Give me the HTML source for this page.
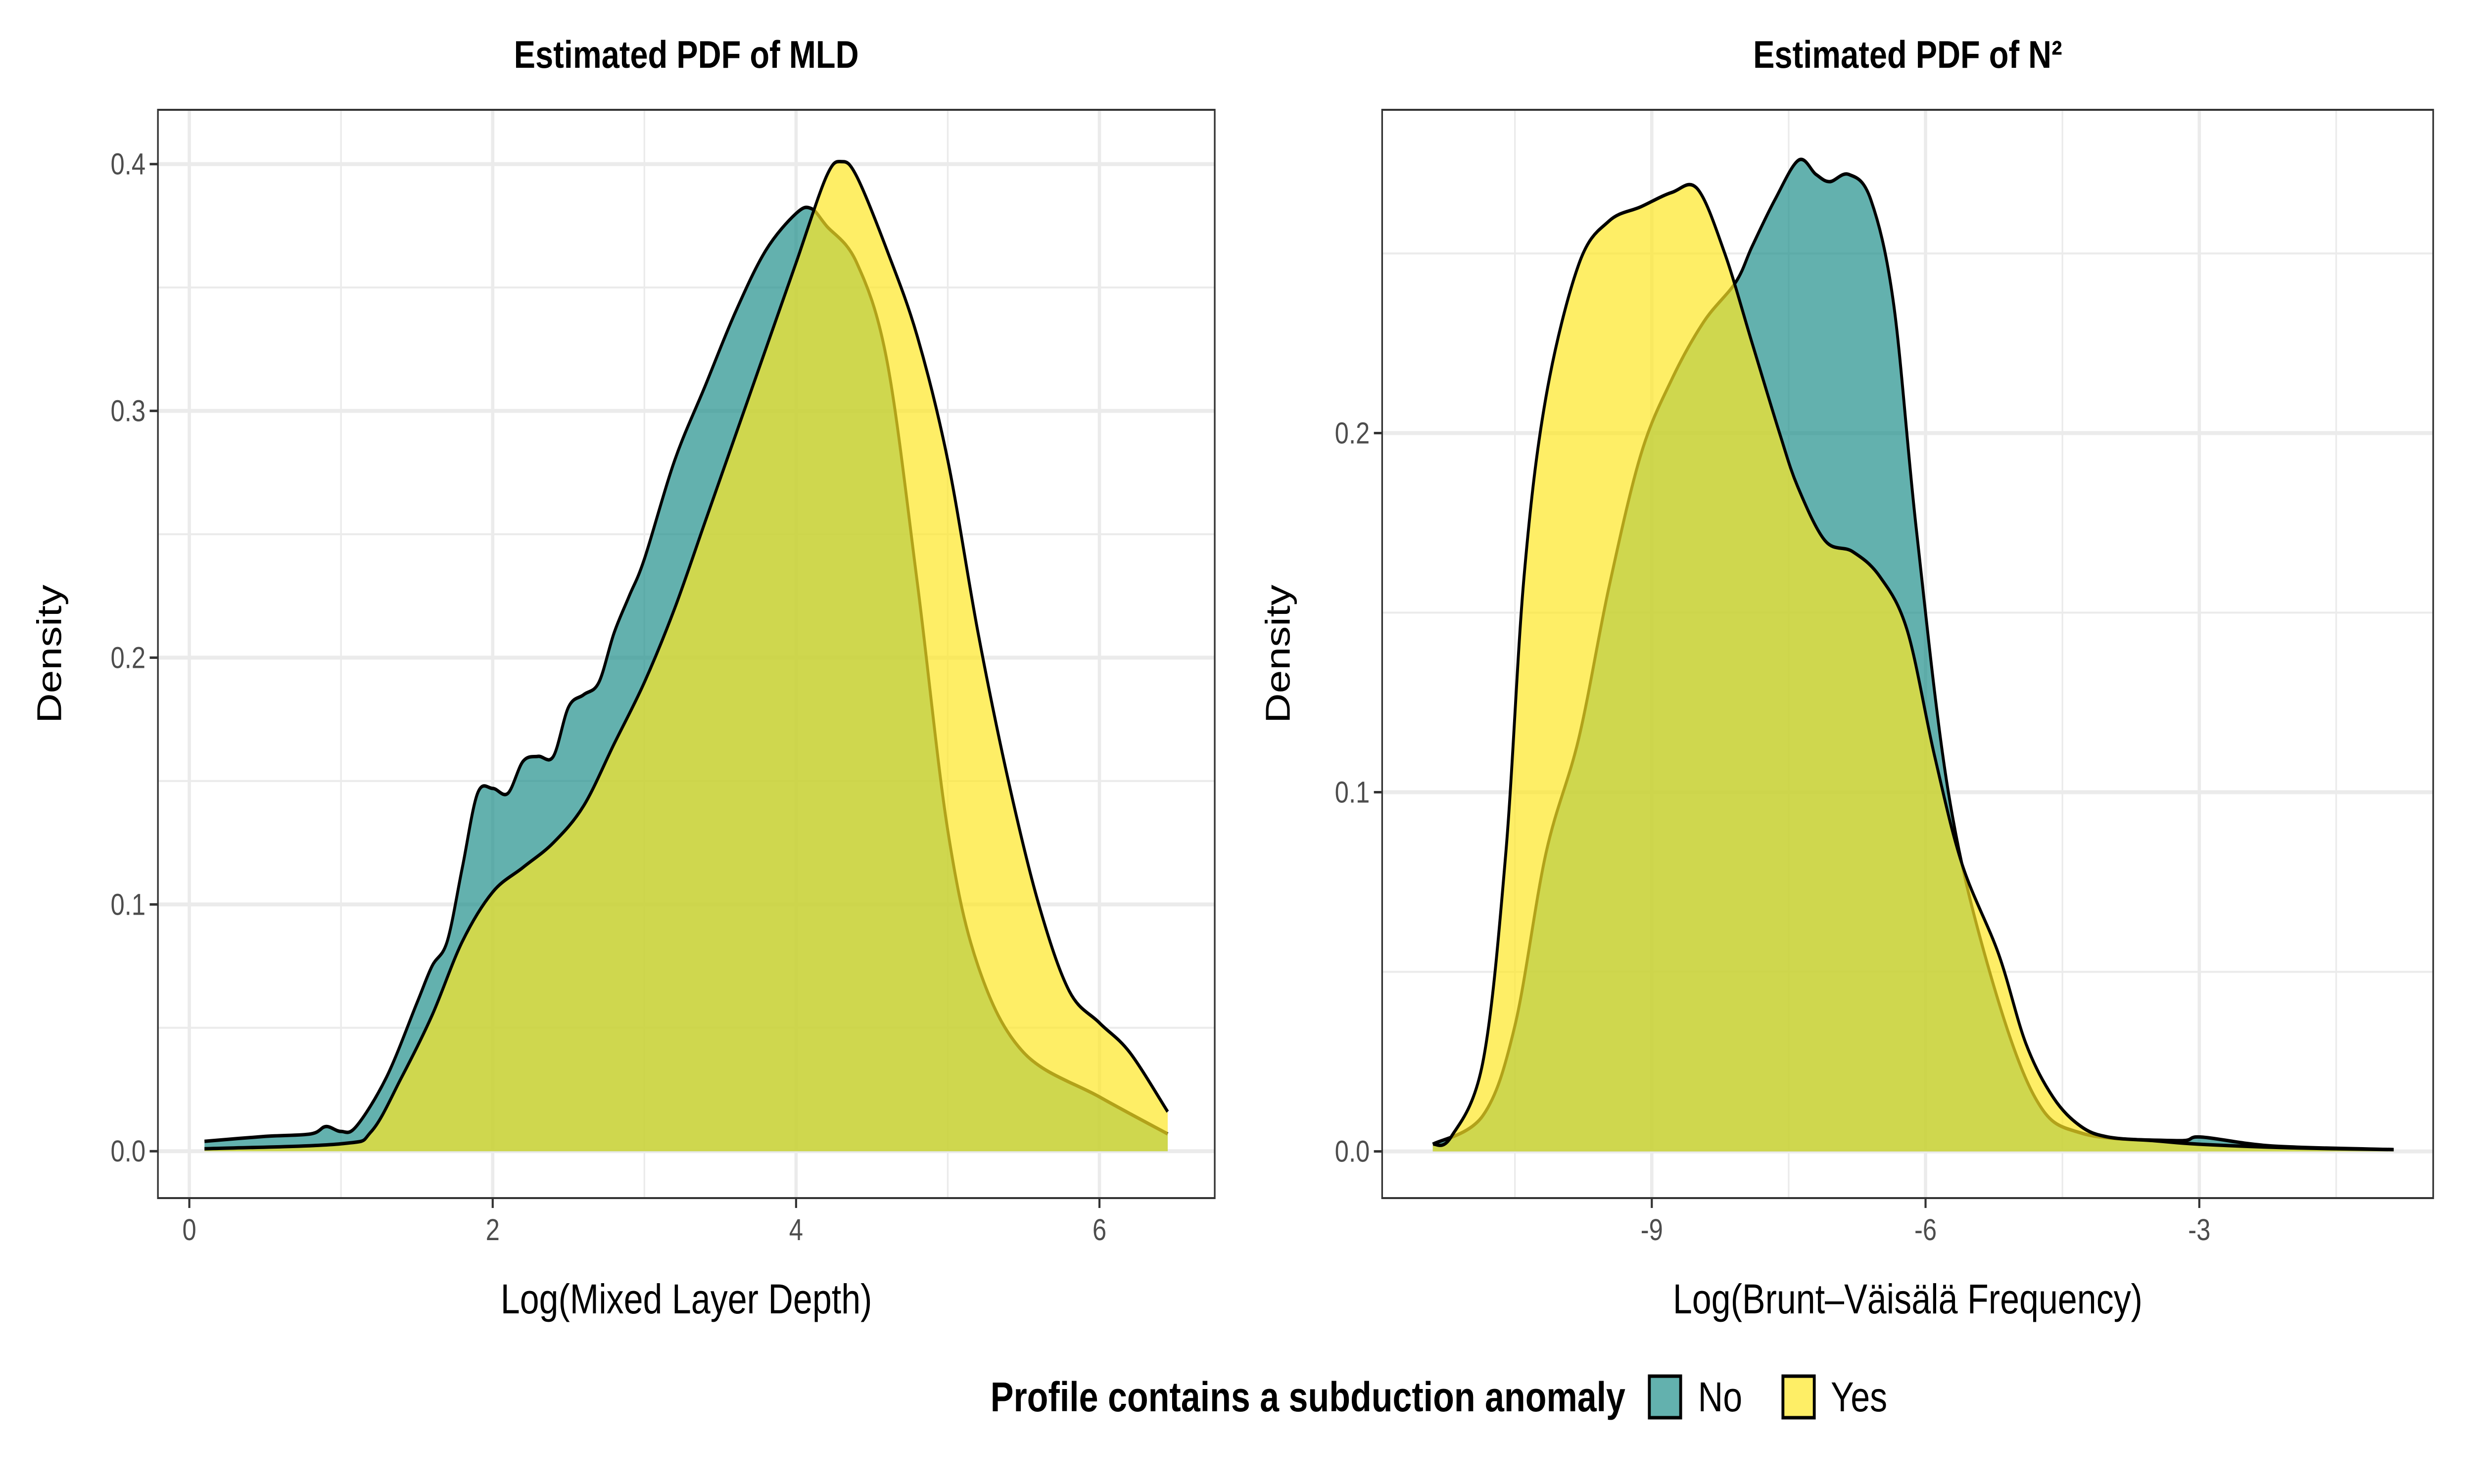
<!DOCTYPE html>
<html><head><meta charset="utf-8"><style>html,body{margin:0;padding:0;background:#fff;overflow:hidden;width:100vw;height:100vh}svg{display:block;position:absolute;left:0;top:0;width:100vw;height:100vh}text{font-family:"Liberation Sans","DejaVu Sans",sans-serif}</style></head>
<body>
<svg id="chart" viewBox="0 0 6000 3000" preserveAspectRatio="none" xmlns="http://www.w3.org/2000/svg">
<rect width="6000" height="3000" fill="#fff"/>
<g id="root"></g>
</svg>
<script>
// MLD panel data
const mldX = [0.1,0.5,0.8,0.9,1.0,1.1,1.3,1.5,1.6,1.7,1.8,1.9,2.0,2.1,2.2,2.3,2.4,2.5,2.6,2.7,2.8,2.9,3.0,3.2,3.4,3.6,3.8,4.0,4.1,4.2,4.4,4.6,4.8,5.0,5.2,5.5,6.0,6.45];
const mldNo = [0.004,0.006,0.007,0.01,0.008,0.01,0.03,0.06,0.075,0.085,0.115,0.145,0.147,0.145,0.158,0.16,0.16,0.18,0.185,0.19,0.21,0.225,0.24,0.28,0.31,0.34,0.365,0.38,0.382,0.375,0.36,0.32,0.23,0.13,0.075,0.04,0.022,0.007];
const mldYesX = [0.1,1.0,1.2,1.4,1.6,1.8,2.0,2.2,2.4,2.6,2.8,3.0,3.2,3.4,3.6,3.8,4.0,4.2,4.3,4.4,4.6,4.8,5.0,5.2,5.4,5.6,5.8,6.0,6.2,6.45];
const mldYes = [0.001,0.003,0.008,0.03,0.055,0.085,0.105,0.115,0.125,0.14,0.165,0.19,0.22,0.255,0.29,0.325,0.36,0.395,0.401,0.395,0.365,0.33,0.28,0.21,0.15,0.1,0.065,0.052,0.04,0.016];
// N2 panel data
const n2NoX = [-11.4,-10.85,-10.5,-10.16,-9.8,-9.47,-9.12,-8.78,-8.43,-8.08,-7.9,-7.65,-7.39,-7.2,-7.05,-6.84,-6.6,-6.35,-6.1,-5.75,-5.32,-4.8,-4.28,-3.24,-2.98,-2.2,-0.87];
const n2No = [0.002,0.01,0.035,0.083,0.115,0.157,0.194,0.215,0.231,0.242,0.252,0.265,0.276,0.272,0.27,0.272,0.265,0.236,0.173,0.1,0.052,0.015,0.005,0.003,0.004,0.0015,0.0005];
const n2YesX = [-11.4,-11.2,-10.85,-10.6,-10.4,-10.16,-9.8,-9.47,-9.12,-8.78,-8.5,-8.2,-7.9,-7.6,-7.4,-7.1,-6.8,-6.5,-6.2,-5.9,-5.6,-5.2,-4.9,-4.6,-4.3,-4.0,-3.5,-3.0,-2.0,-0.87];
const n2Yes = [0.002,0.004,0.025,0.083,0.16,0.21,0.247,0.259,0.263,0.267,0.268,0.25,0.225,0.2,0.185,0.17,0.167,0.16,0.145,0.11,0.08,0.055,0.03,0.015,0.007,0.004,0.003,0.002,0.001,0.0005];
const mldXTicks = [0,2,4,6];
const mldYTicks = [0,0.1,0.2,0.3,0.4];
const n2XTicks = [-9,-6,-3];
const n2XTickLabels = ["-9","-6","-3"];
const n2YTicks = [0,0.1,0.2];

const NS="http://www.w3.org/2000/svg";
const root=document.getElementById('root');
function el(tag,attrs,parent,txt){const e=document.createElementNS(NS,tag);for(const k in attrs)e.setAttribute(k,attrs[k]);if(txt!==undefined)e.textContent=txt;(parent||root).appendChild(e);return e;}
function smooth(pts){let d=`M${pts[0][0]},${pts[0][1]}`;for(let i=0;i<pts.length-1;i++){const p0=pts[Math.max(0,i-1)],p1=pts[i],p2=pts[i+1],p3=pts[Math.min(pts.length-1,i+2)];const c1=[p1[0]+(p2[0]-p0[0])/6,p1[1]+(p2[1]-p0[1])/6],c2=[p2[0]-(p3[0]-p1[0])/6,p2[1]-(p3[1]-p1[1])/6];d+=`C${c1[0]},${c1[1]} ${c2[0]},${c2[1]} ${p2[0]},${p2[1]}`;}return d;}

function panel(o){
  const g=el('g',{});
  
  
  const sx=v=>o.L+(v-o.x0)/(o.x1-o.x0)*(o.R-o.L);
  const sy=v=>o.B-(v-o.y0)/(o.y1-o.y0)*(o.B-o.T);
  el('rect',{x:o.L,y:o.T,width:o.R-o.L,height:o.B-o.T,fill:'#fff'},g);
  o.yMinor.forEach(v=>el('line',{x1:o.L,x2:o.R,y1:sy(v),y2:sy(v),stroke:'#ebebeb','stroke-width':4},g));
  o.xMinor.forEach(v=>el('line',{y1:o.T,y2:o.B,x1:sx(v),x2:sx(v),stroke:'#ebebeb','stroke-width':4},g));
  o.yTicks.forEach(v=>el('line',{x1:o.L,x2:o.R,y1:sy(v),y2:sy(v),stroke:'#ebebeb','stroke-width':8},g));
  o.xTicks.forEach(v=>el('line',{y1:o.T,y2:o.B,x1:sx(v),x2:sx(v),stroke:'#ebebeb','stroke-width':8},g));
  o.series.forEach(s=>{
    const pts=s.x.map((v,i)=>[sx(v),sy(s.y[i])]);
    const line=smooth(pts);
    const area=line+`L${pts[pts.length-1][0]},${sy(0)}L${pts[0][0]},${sy(0)}Z`;
    const a=el('path',{d:area,fill:s.fill,'fill-opacity':0.7},g);
    
    
    const l=el('path',{d:line,fill:'none',stroke:'#000','stroke-width':7},g);
    
    
  });
  el('rect',{x:o.L,y:o.T,width:o.R-o.L,height:o.B-o.T,fill:'none',stroke:'#333','stroke-width':4},g);
  o.yTicks.forEach(v=>{el('line',{x1:o.L-20,x2:o.L,y1:sy(v),y2:sy(v),stroke:'#333','stroke-width':5},g);
    const t=el('text',{x:o.L-30,y:sy(v)+21,'text-anchor':'end','font-size':61,fill:'#4d4d4d'},g,v.toFixed(1));
    });
  o.xTicks.forEach((v,i)=>{el('line',{x1:sx(v),x2:sx(v),y1:o.B,y2:o.B+20,stroke:'#333','stroke-width':5},g);
    const t=el('text',{x:sx(v),y:o.B+85,'text-anchor':'middle','font-size':61,fill:'#4d4d4d'},g,o.xLabels[i]);
    });
  const tt=el('text',{x:(o.L+o.R)/2,y:137,'text-anchor':'middle','font-size':78,'font-weight':'bold',fill:'#000'},g,o.title);
  
  const xt=el('text',{x:(o.L+o.R)/2,y:2655,'text-anchor':'middle','font-size':84,fill:'#000'},g,o.xTitle);
  
  const yt=el('text',{x:0,y:0,'text-anchor':'middle','font-size':84,fill:'#000',transform:`translate(${o.yTitleX},${(o.T+o.B)/2}) rotate(-90)`},g,'Density');
  
}
panel({name:'mld-panel',L:383,R:2946,T:222,B:2422,x0:-0.207,x1:6.76,y0:-0.019,y1:0.422,
  xTicks:mldXTicks,xLabels:mldXTicks.map(String),xMinor:[1,3,5],yTicks:mldYTicks,yMinor:[0.05,0.15,0.25,0.35],
  title:'Estimated PDF of MLD',xTitle:'Log(Mixed Layer Depth)',yTitleX:148,
  series:[{name:'mld-no',x:mldX,y:mldNo,fill:'#21908C'},{name:'mld-yes',x:mldYesX,y:mldYes,fill:'#FDE725'}]});
panel({name:'n2-panel',L:3352,R:5901,T:222,B:2422,x0:-11.955,x1:-0.437,y0:-0.013,y1:0.29,
  xTicks:n2XTicks,xLabels:n2XTickLabels,xMinor:[-10.5,-7.5,-4.5,-1.5],yTicks:n2YTicks,yMinor:[0.05,0.15,0.25],
  title:'Estimated PDF of N²',xTitle:'Log(Brunt–Väisälä Frequency)',yTitleX:3128,
  series:[{name:'n2-no',x:n2NoX,y:n2No,fill:'#21908C'},{name:'n2-yes',x:n2YesX,y:n2Yes,fill:'#FDE725'}]});
</script>
<svg viewBox="0 0 6000 3000" preserveAspectRatio="none" xmlns="http://www.w3.org/2000/svg">
<text x="3942" y="2853" text-anchor="end" font-size="84" font-weight="bold">Profile contains a subduction anomaly</text>
<rect x="4000" y="2782" width="76" height="84" fill="#21908C" fill-opacity="0.7" stroke="#000" stroke-width="7"/>
<text x="4118" y="2853" font-size="84">No</text>
<rect x="4324" y="2782" width="76" height="84" fill="#FDE725" fill-opacity="0.7" stroke="#000" stroke-width="7"/>
<text x="4440" y="2853" font-size="84">Yes</text>
</svg>
</body></html>
